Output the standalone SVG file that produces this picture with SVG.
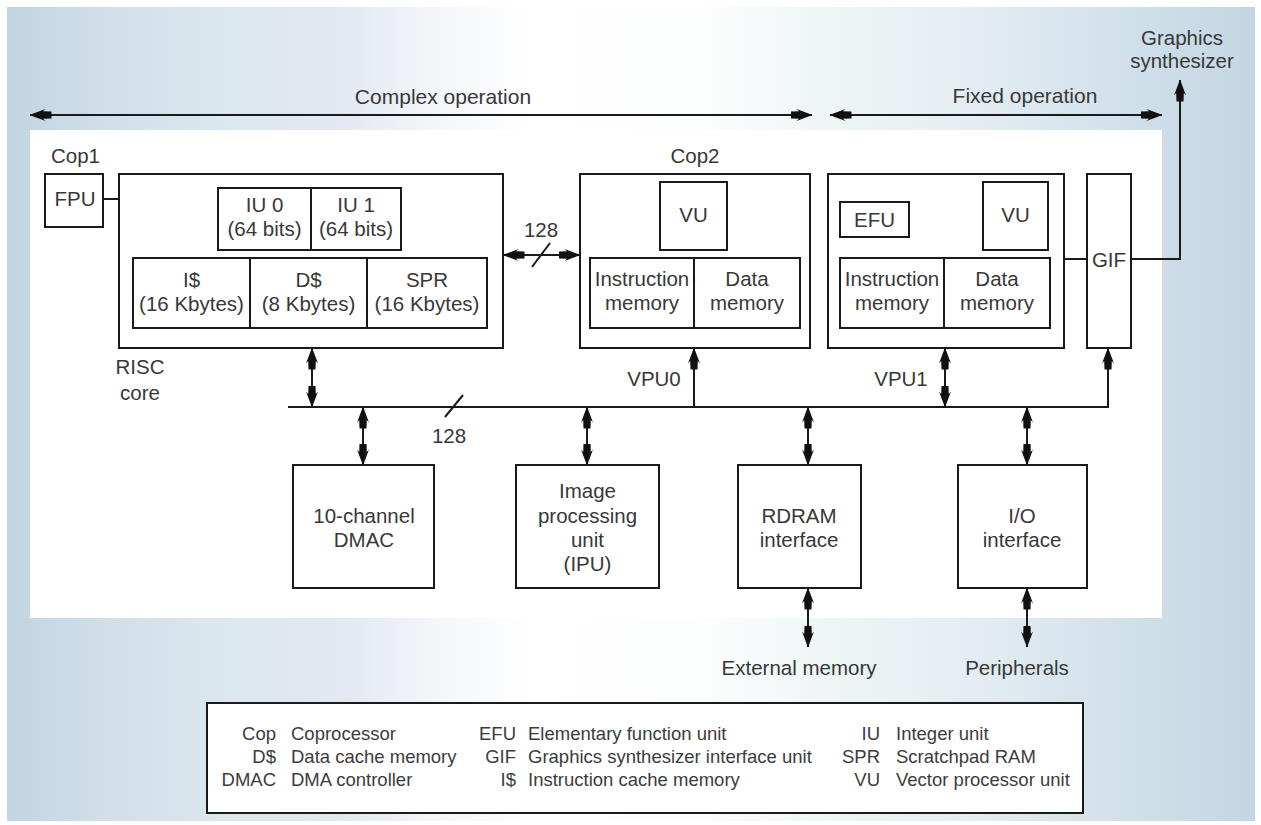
<svg xmlns="http://www.w3.org/2000/svg" width="1261" height="825" viewBox="0 0 1261 825">
<defs>
<linearGradient id="bg" x1="0" y1="0" x2="1" y2="0">
<stop offset="0" stop-color="#c3d4e2"/>
<stop offset="0.08" stop-color="#d0dfe9"/>
<stop offset="0.17" stop-color="#dbe7ee"/>
<stop offset="0.27" stop-color="#e3e8f1"/>
<stop offset="0.34" stop-color="#f3f5f9"/>
<stop offset="0.42" stop-color="#ffffff"/>
<stop offset="0.56" stop-color="#fcfdfd"/>
<stop offset="0.66" stop-color="#eef5f5"/>
<stop offset="0.76" stop-color="#e6eef3"/>
<stop offset="0.84" stop-color="#dae6ee"/>
<stop offset="0.92" stop-color="#cddee8"/>
<stop offset="1" stop-color="#c4d6e3"/>
</linearGradient>
<marker id="ah" viewBox="0 -7 22 14" markerWidth="22" markerHeight="14" refX="21.5" refY="0" orient="auto-start-reverse" markerUnits="userSpaceOnUse">
<path d="M22,0 L6,-6 L8.5,-3.8 L0,-3.5 L0,3.5 L8.5,3.8 L6,6 Z" fill="#111"/>
</marker>
</defs>
<style>
.box{fill:none;stroke:#1a1a1a;stroke-width:2}
.wbox{fill:#ffffff;stroke:#1a1a1a;stroke-width:2}
.ln{fill:none;stroke:#1a1a1a;stroke-width:2}
.arr{fill:none;stroke:#1a1a1a;stroke-width:2;marker-end:url(#ah)}
.dbl{fill:none;stroke:#1a1a1a;stroke-width:2;marker-start:url(#ah);marker-end:url(#ah)}
.t{font-family:"Liberation Sans",Arial,Helvetica,sans-serif;font-size:20.5px;fill:#383838;text-anchor:middle}
.big{font-size:21px}
.lg{font-family:"Liberation Sans",Arial,Helvetica,sans-serif;font-size:18.5px;fill:#3c3c3c}
.r{text-anchor:end}
</style>

<rect x="0" y="0" width="1261" height="825" fill="#ffffff"/>
<rect x="7" y="7" width="1248" height="814" fill="url(#bg)"/>
<rect x="30" y="130" width="1132" height="488" fill="#ffffff"/>

<g id="labels-top">
<text class="t big" x="443" y="104">Complex operation</text>
<text class="t big" x="1025" y="103">Fixed operation</text>
<text class="t" x="1182" y="45">Graphics</text>
<text class="t" x="1182" y="68">synthesizer</text>
</g>

<g id="cop1">
<text class="t" x="51" y="163" style="text-anchor:start">Cop1</text>
<rect class="box" x="45" y="174" width="58" height="53"/>
<text class="t" x="75" y="206">FPU</text>
</g>

<g id="risc-core">
<rect class="box" x="119" y="174" width="384" height="174"/>
<rect class="box" x="218" y="188" width="183" height="62"/>
<line class="ln" x1="311" y1="188" x2="311" y2="250"/>
<text class="t" x="264.5" y="212">IU 0</text>
<text class="t" x="264.5" y="236">(64 bits)</text>
<text class="t" x="356" y="212">IU 1</text>
<text class="t" x="356" y="236">(64 bits)</text>
<rect class="box" x="133" y="258" width="354" height="70"/>
<line class="ln" x1="250" y1="258" x2="250" y2="328"/>
<line class="ln" x1="367" y1="258" x2="367" y2="328"/>
<text class="t" x="191.5" y="287">I$</text>
<text class="t" x="191.5" y="311">(16 Kbytes)</text>
<text class="t" x="308.5" y="287">D$</text>
<text class="t" x="308.5" y="311">(8 Kbytes)</text>
<text class="t" x="427" y="287">SPR</text>
<text class="t" x="427" y="311">(16 Kbytes)</text>
<text class="t" x="140" y="374">RISC</text>
<text class="t" x="140" y="400">core</text>
</g>

<g id="cop2-vpu0">
<text class="t" x="695" y="163">Cop2</text>
<rect class="box" x="580" y="174" width="230" height="174"/>
<rect class="box" x="660" y="182" width="67" height="68"/>
<text class="t" x="693.5" y="222">VU</text>
<rect class="box" x="590" y="258" width="210" height="70"/>
<line class="ln" x1="694" y1="258" x2="694" y2="328"/>
<text class="t" x="642" y="286">Instruction</text>
<text class="t" x="642" y="310">memory</text>
<text class="t" x="747" y="286">Data</text>
<text class="t" x="747" y="310">memory</text>
<text class="t" x="654" y="386">VPU0</text>
</g>

<g id="vpu1">
<rect class="box" x="828" y="174" width="236" height="174"/>
<rect class="box" x="840" y="202" width="69" height="35"/>
<text class="t" x="874.5" y="227">EFU</text>
<rect class="box" x="983" y="182" width="65" height="68"/>
<text class="t" x="1015.5" y="222">VU</text>
<rect class="box" x="840" y="258" width="210" height="70"/>
<line class="ln" x1="944" y1="258" x2="944" y2="328"/>
<text class="t" x="892" y="286">Instruction</text>
<text class="t" x="892" y="310">memory</text>
<text class="t" x="997" y="286">Data</text>
<text class="t" x="997" y="310">memory</text>
<text class="t" x="901" y="386">VPU1</text>
</g>

<g id="gif">
<rect class="box" x="1087" y="174" width="44" height="174"/>
<text class="t" x="1109" y="267">GIF</text>
</g>

<g id="dmac">
<rect class="box" x="293" y="465" width="141" height="123"/>
<text class="t" x="364" y="523">10-channel</text>
<text class="t" x="364" y="547">DMAC</text>
</g>

<g id="ipu">
<rect class="box" x="516" y="465" width="143" height="123"/>
<text class="t" x="587.5" y="498">Image</text>
<text class="t" x="587.5" y="523">processing</text>
<text class="t" x="587.5" y="547">unit</text>
<text class="t" x="587.5" y="571">(IPU)</text>
</g>

<g id="rdram">
<rect class="box" x="738" y="465" width="123" height="123"/>
<text class="t" x="799" y="523">RDRAM</text>
<text class="t" x="799" y="547">interface</text>
<text class="t" x="799" y="675">External memory</text>
</g>

<g id="io">
<rect class="box" x="958" y="465" width="129" height="123"/>
<text class="t" x="1022" y="523">I/O</text>
<text class="t" x="1022" y="547">interface</text>
<text class="t" x="1017" y="675">Peripherals</text>
</g>

<g id="connectors">
<line class="dbl" x1="30" y1="115" x2="812" y2="115"/>
<line class="dbl" x1="830" y1="115" x2="1162" y2="115"/>
<polyline class="arr" points="1131,259 1180,259 1180,80"/>
<line class="ln" x1="103" y1="199" x2="119" y2="199"/>
<line class="dbl" x1="503" y1="255" x2="580" y2="255"/>
<line class="ln" x1="532" y1="267" x2="550" y2="243"/>
<text class="t" x="541" y="237">128</text>
<line class="ln" x1="1064" y1="259" x2="1087" y2="259"/>
<polyline class="arr" points="288,407 1108,407 1108,348"/>
<line class="ln" x1="445" y1="417" x2="463" y2="395"/>
<text class="t" x="449" y="443">128</text>
<line class="dbl" x1="312" y1="348" x2="312" y2="407"/>
<line class="arr" x1="694" y1="407" x2="694" y2="348"/>
<line class="dbl" x1="945" y1="348" x2="945" y2="407"/>
<line class="dbl" x1="363" y1="407" x2="363" y2="465"/>
<line class="dbl" x1="587" y1="407" x2="587" y2="465"/>
<line class="dbl" x1="808" y1="407" x2="808" y2="465"/>
<line class="dbl" x1="1027" y1="407" x2="1027" y2="465"/>
<line class="dbl" x1="808" y1="588" x2="808" y2="647"/>
<line class="dbl" x1="1027" y1="588" x2="1027" y2="647"/>
</g>

<g id="legend">
<rect class="wbox" x="207" y="703" width="876" height="110" fill="#fdfdfd"/>
<text class="lg r" x="276" y="740">Cop</text>
<text class="lg r" x="276" y="763">D$</text>
<text class="lg r" x="276" y="786">DMAC</text>
<text class="lg" x="291" y="740">Coprocessor</text>
<text class="lg" x="291" y="763">Data cache memory</text>
<text class="lg" x="291" y="786">DMA controller</text>
<text class="lg r" x="516" y="740">EFU</text>
<text class="lg r" x="516" y="763">GIF</text>
<text class="lg r" x="516" y="786">I$</text>
<text class="lg" x="528" y="740">Elementary function unit</text>
<text class="lg" x="528" y="763">Graphics synthesizer interface unit</text>
<text class="lg" x="528" y="786">Instruction cache memory</text>
<text class="lg r" x="880" y="740">IU</text>
<text class="lg r" x="880" y="763">SPR</text>
<text class="lg r" x="880" y="786">VU</text>
<text class="lg" x="896" y="740">Integer unit</text>
<text class="lg" x="896" y="763">Scratchpad RAM</text>
<text class="lg" x="896" y="786">Vector processor unit</text>
</g>
</svg>
